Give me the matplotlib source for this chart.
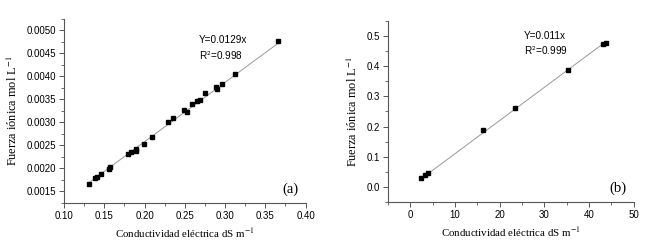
import numpy as np
import matplotlib
matplotlib.use("Agg")
import matplotlib.pyplot as plt
from matplotlib.ticker import MultipleLocator, FormatStrFormatter

# panel (a)
ce_a = [0.131, 0.1386, 0.141, 0.1465, 0.1564, 0.1573, 0.1793, 0.1834, 0.1892, 0.189,
        0.1988, 0.2091, 0.229, 0.2357, 0.249, 0.2527, 0.259, 0.265, 0.269, 0.2747,
        0.2888, 0.2896, 0.2958, 0.3124, 0.3655]
fi_a = [0.00167, 0.00180, 0.00182, 0.00188, 0.00198, 0.00204, 0.00231, 0.00236, 0.00243, 0.00238,
        0.00254, 0.00268, 0.00301, 0.00310, 0.00327, 0.00322, 0.00340, 0.00347, 0.00349, 0.00363,
        0.00376, 0.00372, 0.00383, 0.00406, 0.00476]
slope_a = 0.0129

# panel (b)
ce_b = [2.4, 3.3, 4.0, 16.3, 23.5, 35.3, 43.1, 43.8]
fi_b = [0.0295, 0.039, 0.046, 0.188, 0.261, 0.388, 0.475, 0.477]
slope_b = 0.011

serif = "Liberation Serif"
sans = "Liberation Sans"
plt.rcParams["mathtext.fontset"] = "stix"

fig = plt.figure(figsize=(6.5, 2.49), dpi=100)
ax1 = fig.add_axes([0.0985, 0.185, 0.3715, 0.739])
ax2 = fig.add_axes([0.597, 0.189, 0.378, 0.727])


def estilo(ax):
    for s in ["top", "right"]:
        ax.spines[s].set_visible(False)
    for s in ["left", "bottom"]:
        ax.spines[s].set_color("#555555")
        ax.spines[s].set_linewidth(0.8)
    ax.tick_params(which="major", direction="out", length=3.5, width=0.7,
                   color="#555555", labelsize=7, pad=2)
    ax.tick_params(which="minor", direction="out", length=2, width=0.6, color="#555555")
    for lab in ax.get_xticklabels() + ax.get_yticklabels():
        lab.set_fontfamily(sans)
    ax.set_xlabel("Conductividad eléctrica dS m$^{-1}$", family=serif, fontsize=7.8, labelpad=4)
    ax.set_ylabel("Fuerza iónica mol L$^{-1}$", family=serif, fontsize=8.8, labelpad=5)


def ecuacion(ax, x, y, texto, r2):
    ax.text(x, y, texto, transform=ax.transAxes, family=sans, fontsize=7.2,
            va="top", ha="left")
    ax.text(x, y - 0.075, "R$^\\mathsf{2}$=" + r2, transform=ax.transAxes, family=sans,
            fontsize=7.2, va="top", ha="left")


# (a)
xa = np.array([min(ce_a), max(ce_a)])
ax1.plot(xa, slope_a * xa, color="#999999", lw=0.7, zorder=1)
ax1.plot(ce_a, fi_a, "s", color="black", ms=3, zorder=2)
ax1.set_xlim(0.10, 0.40)
ax1.set_ylim(0.00125, 0.00525)
ax1.xaxis.set_major_locator(MultipleLocator(0.05))
ax1.xaxis.set_minor_locator(MultipleLocator(0.025))
ax1.yaxis.set_major_locator(MultipleLocator(0.0005))
ax1.yaxis.set_minor_locator(MultipleLocator(0.00025))
ax1.xaxis.set_major_formatter(FormatStrFormatter("%.2f"))
ax1.yaxis.set_major_formatter(FormatStrFormatter("%.4f"))
estilo(ax1)
ecuacion(ax1, 0.56, 0.91, "Y=0.0129x", "0.998")
ax1.text(0.97, 0.04, "(a)", transform=ax1.transAxes, family=serif, fontsize=10.5,
         ha="right", va="bottom")

# (b)
xb = np.array([min(ce_b), max(ce_b)])
ax2.plot(xb, slope_b * xb, color="#999999", lw=0.7, zorder=1)
ax2.plot(ce_b, fi_b, "s", color="black", ms=3, zorder=2)
ax2.set_xlim(-5, 50)
ax2.set_ylim(-0.05, 0.55)
ax2.xaxis.set_major_locator(MultipleLocator(10))
ax2.xaxis.set_minor_locator(MultipleLocator(5))
ax2.yaxis.set_major_locator(MultipleLocator(0.1))
ax2.yaxis.set_minor_locator(MultipleLocator(0.05))
ax2.yaxis.set_major_formatter(FormatStrFormatter("%.1f"))
estilo(ax2)
ecuacion(ax2, 0.553, 0.945, "Y=0.011x", "0.999")
ax2.text(0.97, 0.04, "(b)", transform=ax2.transAxes, family=serif, fontsize=10.5,
         ha="right", va="bottom")

fig.savefig("out.png", dpi=100)
